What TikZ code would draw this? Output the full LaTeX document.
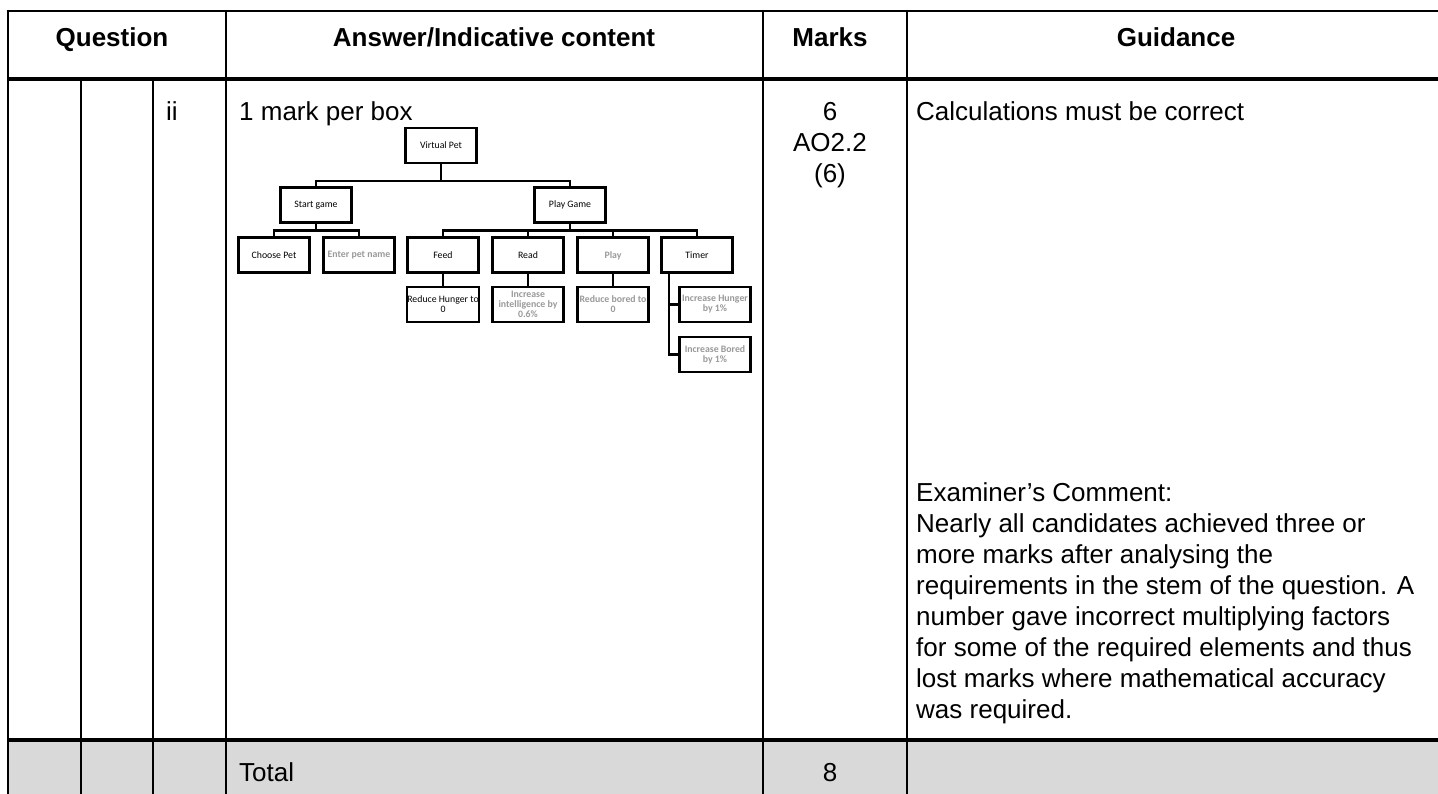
\documentclass[tikz,border=0pt]{standalone}
\usepackage{fontspec}
\setmainfont{Liberation Sans}
\newfontfamily\boxfont{Carlito}
\definecolor{totalgrey}{HTML}{D9D9D9}
\definecolor{softgrey}{HTML}{9A9A9A}
\begin{document}
\begin{tikzpicture}[x=1pt,y=-1pt,
  gridline/.style={line width=2.8pt},
  heavyline/.style={line width=3.8pt},
  hdr/.style={anchor=base,font=\bfseries\fontsize{26}{31}\selectfont,inner sep=0},
  body/.style={anchor=base west,font=\fontsize{26}{31}\selectfont,inner sep=0,align=left},
  marks/.style={anchor=base,font=\fontsize{26}{31}\selectfont,inner sep=0,align=center},
  tbox/.style={draw,line width=2.3pt,minimum width=71pt,minimum height=35pt,inner sep=0,
    align=center,font=\boxfont\fontsize{9.8}{10}\selectfont},
  faint/.style={text=softgrey,font=\boxfont\bfseries\fontsize{9.8}{10}\selectfont},
  conn/.style={line width=2.3pt}]
\useasboundingbox (0,0) rectangle (1438,794);
\fill[white] (0,0) rectangle (1438,794);
% total row shading
\fill[totalgrey] (8,740) rectangle (1445,800);
% grid
\draw[gridline] (6.6,11) -- (1445,11);
\draw[heavyline] (8,79) -- (1445,79);
\draw[heavyline] (8,740) -- (1445,740);
\draw[gridline] (8,9.6) -- (8,800);
\draw[gridline] (226,9.6) -- (226,800);
\draw[gridline] (763,9.6) -- (763,800);
\draw[gridline] (907,9.6) -- (907,800);
\draw[gridline] (81,79) -- (81,800);
\draw[gridline] (153,79) -- (153,800);
% header
\node[hdr] (hq) at (112,47) {Question};
\node[hdr] (ha) at (494,47) {Answer/Indicative content};
\node[hdr] (hm) at (830,47) {Marks};
\node[hdr] (hg) at (1176,47) {Guidance};
% row body (multi-line nodes: base anchor = last line's baseline)
\node[body] (ii) at (166,121) {ii};
\node[body] (mpb) at (239,121) {1 mark per box};
\node[marks] (mk) at (830,183) {6\\AO2.2\\(6)};
\node[body] (calc) at (916,121) {Calculations must be correct};
\node[body] (exam) at (916,718) {Examiner’s Comment:\\
Nearly all candidates achieved three or\\
more marks after analysing the\\
requirements in the stem of the question. A\\
number gave incorrect multiplying factors\\
for some of the required elements and thus\\
lost marks where mathematical accuracy\\
was required.};
% total row
\node[body] (tot) at (239,781) {Total};
\node[marks] (eight) at (830,781) {8};
% tree
\node[tbox] (vp) at (441,145.5) {Virtual Pet};
\node[tbox] (sg) at (316,205) {Start game};
\node[tbox] (pg) at (570,205) {Play Game};
\node[tbox] (cp) at (274,255) {Choose Pet};
\node[tbox,faint] (ep) at (359,255) {Enter pet name};
\node[tbox] (fd) at (443,255) {Feed};
\node[tbox] (rd) at (528,255) {Read};
\node[tbox,faint,text depth=0pt] (pl) at (613,255) {Play};
\node[tbox] (tm) at (697,255) {Timer};
\node[tbox] (rh) at (443,304.5) {Reduce Hunger to\\0};
\node[tbox,faint] (ri) at (528,304.5) {Increase\\intelligence by\\0.6\%};
\node[tbox,faint] (rb) at (613,304.5) {Reduce bored to\\0};
\node[tbox,faint] (ih) at (715,304.5) {Increase Hunger\\by 1\%};
\node[tbox,faint] (ib) at (715,354.5) {Increase Bored\\by 1\%};
% connectors
\draw[conn] (vp.south) -- ++(0,17) coordinate (b1);
\draw[conn] (sg.north) |- (b1) -| (pg.north);
\draw[conn] (sg.south) -- ++(0,7) coordinate (b2);
\draw[conn] (cp.north) |- (b2) -| (ep.north);
\draw[conn] (pg.south) -- ++(0,7) coordinate (b3);
\draw[conn] (fd.north) |- (b3) -| (tm.north);
\draw[conn] (rd.north) -- (rd.north |- b3);
\draw[conn] (pl.north) -- (pl.north |- b3);
\draw[conn] (fd.south) -- (rh.north);
\draw[conn] (rd.south) -- (ri.north);
\draw[conn] (pl.south) -- (rb.north);
\coordinate (tj) at ([xshift=-28pt]tm.south);
\draw[conn] (tj) |- (ih.west);
\draw[conn] (tj) |- (ib.west);
\end{tikzpicture}
\end{document}
